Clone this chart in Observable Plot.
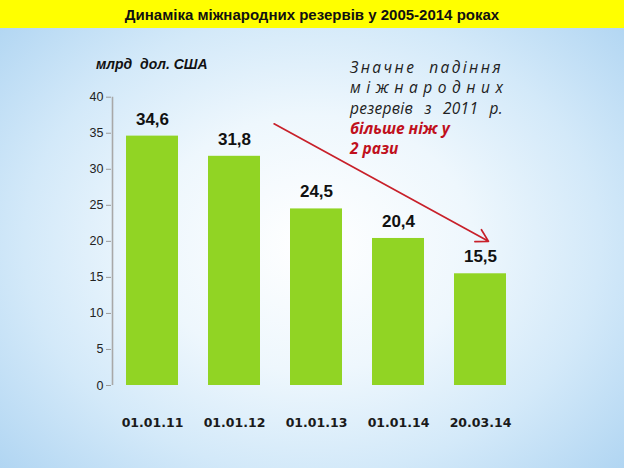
<!DOCTYPE html>
<html>
<head>
<meta charset="utf-8">
<script src="https://cdn.jsdelivr.net/npm/d3@7"></script>
<script src="https://cdn.jsdelivr.net/npm/@observablehq/plot@0.6"></script>
<style>
  html, body { margin: 0; padding: 0; }
  body {
    width: 624px; height: 468px; overflow: hidden; position: relative;
    background: radial-gradient(ellipse 68% 72% at 50% 52%, #ffffff 0%, #eef7fd 38%, #d3e9f9 68%, #b0d5f2 100%);
    font-family: "Liberation Sans", Arial, sans-serif;
  }
  #title {
    height: 28px; background: #ffff00; text-align: center;
    font-family: "Liberation Sans Narrow", "Liberation Sans", Arial, sans-serif;
    font-weight: bold; font-size: 15px; line-height: 30px; color: #111;
  }
  #unit {
    position: absolute; left: 96px; top: 56px;
    font-family: "Liberation Sans", Arial, sans-serif;
    font-weight: bold; font-style: italic; font-size: 14px; color: #111;
  }
  #note {
    position: absolute; left: 350px; top: 57px; width: 153px;
    font-family: "Open Sans", "DejaVu Sans", sans-serif; font-style: italic;
    font-size: 15.5px; line-height: 20.3px; color: #222;
  }
  #note .j1 { white-space: nowrap; text-align: justify; text-align-last: justify; letter-spacing: 2.4px; }
  #note .j3 { white-space: nowrap; text-align: justify; text-align-last: justify; letter-spacing: 0.3px; }
  #note .s { display: flex; justify-content: space-between; }
  #note .r { color: #c0101c; font-weight: bold; white-space: nowrap; }
  #chart { position: absolute; left: 0; top: 28px; }
</style>
</head>
<body>
<div id="title">Динаміка міжнародних резервів у 2005-2014 роках</div>
<div id="unit">млрд&nbsp; дол. США</div>
<div id="note">
  <div class="j1">Значне падіння</div>
  <div class="s" id="spread"></div>
  <div class="j3">резервів з 2011 р.</div>
  <div class="r">більше ніж у</div>
  <div class="r">2 рази</div>
</div>
<div id="chart"></div>
<script>
const dates = ["01.01.11", "01.01.12", "01.01.13", "01.01.14", "20.03.14"];
const values = [34.6, 31.8, 24.5, 20.4, 15.5];
const yTicks = [0, 5, 10, 15, 20, 25, 30, 35, 40];
const arrowFrom = {date: "01.01.12", value: 38.7};
const arrowTo = {date: "20.03.14", value: 20.0};

const spreadWord = "міжнародних";
const sp = document.getElementById("spread");
for (const ch of spreadWord) {
  const s = document.createElement("span");
  s.textContent = ch;
  sp.appendChild(s);
}

const data = dates.map((d, i) => ({date: d, value: values[i]}));
const fmt = v => String(v).replace(".", ",");

const plot = Plot.plot({
  width: 624,
  height: 440,
  marginLeft: 111,
  marginRight: 102,
  marginTop: 68.7,
  marginBottom: 83,
  style: {background: "transparent", overflow: "visible"},
  x: {domain: dates, paddingInner: 0.36, paddingOuter: 0.18},
  y: {domain: [0, 40]},
  marks: [
    Plot.axisY({ticks: yTicks, tickSize: 5, tickPadding: 3, label: null,
      fontSize: 12.5, fill: "#222", stroke: "#9a9a9a",
      fontFamily: "Liberation Sans, Arial, sans-serif"}),
    Plot.axisX({tickSize: 0, tickPadding: 33, label: null,
      fontSize: 12.5, fontWeight: "bold", fill: "#1a1a1a",
      fontFamily: "DejaVu Sans, Verdana, sans-serif",
      style: {letterSpacing: "0.8px"}}),
    Plot.ruleX([0], {x: () => dates[0], dx: -40, y1: 0, y2: 40, stroke: "#a8a8a8", strokeWidth: 1.6}),
    Plot.barY(data, {x: "date", y: "value", fill: "#91d424"}),
    Plot.text(data, {x: "date", y: "value", text: d => fmt(d.value), dy: -17,
      fontSize: 17, fontWeight: "bold", fill: "#111",
      fontFamily: "Liberation Sans, Arial, sans-serif"}),
    Plot.arrow([{}], {
      x1: () => arrowFrom.date, y1: () => arrowFrom.value,
      x2: () => arrowTo.date, y2: () => arrowTo.value,
      dx: 8, insetStart: 36, insetEnd: 0, headLength: 12,
      stroke: "#c8202a", strokeWidth: 1.7
    })
  ]
});
document.getElementById("chart").appendChild(plot);
</script>
</body>
</html>
